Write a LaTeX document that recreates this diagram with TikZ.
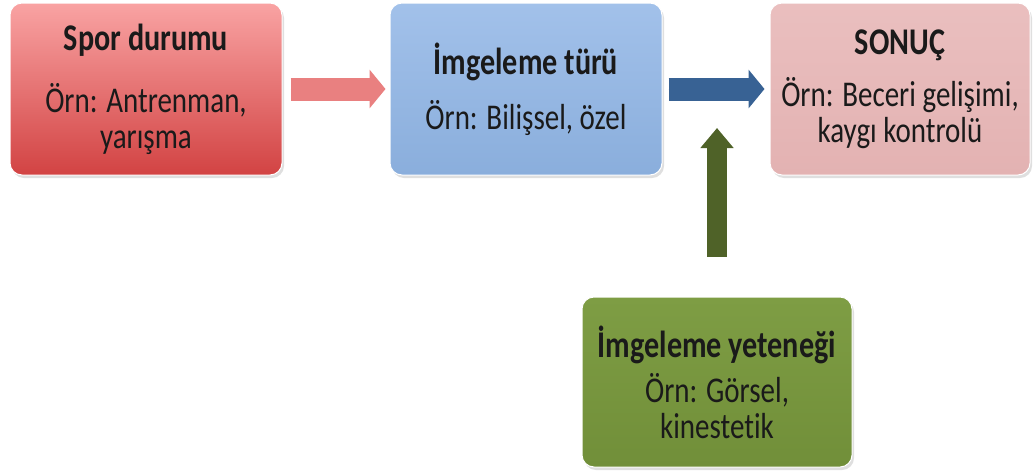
\documentclass[tikz,border=0pt]{standalone}
\usepackage{fontspec}
\setmainfont[Ligatures=NoCommon,RawFeature={-calt;-clig}]{Carlito}
\usetikzlibrary{arrows.meta,shadows}
\definecolor{txt}{HTML}{1A1A1A}
\definecolor{redtop}{HTML}{F9A3A3}
\definecolor{redbot}{HTML}{D24343}
\definecolor{bluetop}{HTML}{A2C1EA}
\definecolor{bluebot}{HTML}{8AAEDC}
\definecolor{rosetop}{HTML}{EABFBF}
\definecolor{rosebot}{HTML}{E3B2B2}
\definecolor{greentop}{HTML}{7E9D44}
\definecolor{greenbot}{HTML}{718F39}
\definecolor{pinkarrow}{HTML}{E98080}
\definecolor{bluearrow}{HTML}{386294}
\definecolor{greenarrow}{HTML}{4F6228}
\newcommand\vs[1]{\scalebox{1}[1.25]{#1}}
\newcommand\ttl[1]{\scalebox{1.04}[1.3]{\textbf{#1}}}
\setlength{\lineskiplimit}{-100pt}
\tikzset{
  box/.style={rounded corners=12pt, minimum height=172pt, inner sep=0pt,
    align=center, text=txt, font=\fontsize{29}{36}\selectfont,
    drop shadow={opacity=0.25, shadow xshift=2pt, shadow yshift=-3pt},
    draw=white, line width=1pt},
  harrow/.style={line width=23pt, -{Triangle[width=38pt,length=16pt]}},
  varrow/.style={line width=20pt, -{Triangle[width=32pt,length=20pt]}},
}
\begin{document}
\begin{tikzpicture}[x=1pt,y=-1pt]
\useasboundingbox (0,0) rectangle (1035,472);
\node[box, minimum width=272pt, top color=redtop, bottom color=redbot] (n1) at (146,89)
  {\ttl{Spor durumu}\\[26pt]\vs{Örn: Antrenman,}\\\vs{yarışma}};
\node[box, minimum width=272pt, top color=bluetop, bottom color=bluebot] (n2) at (526,89)
  {\ttl{İmgeleme türü}\\[19pt]\vs{Örn: Bilişsel, özel}};
\node[box, minimum width=260pt, top color=rosetop, bottom color=rosebot] (n3) at (900,89)
  {\ttl{SONUÇ}\\[16pt]\vs{Örn: Beceri gelişimi,}\\\vs{kaygı kontrolü}};
\node[box, minimum width=270pt, minimum height=170pt, top color=greentop, bottom color=greenbot] (n4) at (717,382)
  {\ttl{İmgeleme yeteneği}\\[9pt]\vs{Örn: Görsel,}\\\vs{kinestet\kern0pt ik}};
\coordinate (gtip) at (717,128);
\draw[harrow, draw=pinkarrow, fill=pinkarrow, shorten <=8pt, shorten >=4pt] (n1.east) -- (n2.west);
\draw[harrow, draw=bluearrow, fill=bluearrow, shorten <=6pt, shorten >=5pt] (n2.east) -- (n3.west);
\draw[varrow, draw=greenarrow, fill=greenarrow, shorten <=40pt] (n4.north) -- (gtip);
\end{tikzpicture}
\end{document}
